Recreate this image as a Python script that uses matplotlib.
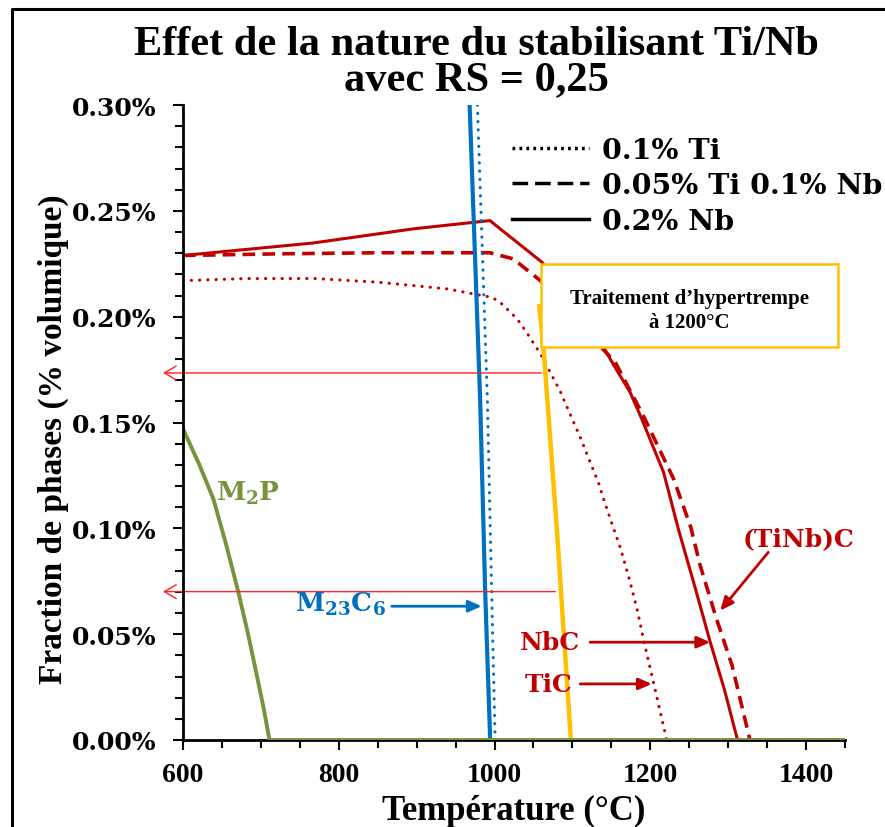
import matplotlib
matplotlib.use('Agg')
import matplotlib.pyplot as plt
from matplotlib.ticker import MultipleLocator, FuncFormatter
from matplotlib.lines import Line2D
from matplotlib.patches import Rectangle

plt.rcParams['mathtext.fontset'] = 'dejavuserif'

# ---------------- data (temperature in °C, fraction in % vol) ----------------
T_ti = [600, 680, 770, 850, 940, 973, 996, 1007, 1018, 1029, 1041, 1059, 1084, 1110,
        1134, 1140, 1150, 1162, 1173, 1183, 1192, 1204, 1221, 1450]
y_ti = [0.217, 0.218, 0.218, 0.2163, 0.2131, 0.2107, 0.2092, 0.2069, 0.2029, 0.199,
        0.1927, 0.1824, 0.165, 0.143, 0.121, 0.1139, 0.103, 0.0903, 0.0761, 0.0619,
        0.0463, 0.0274, 0.0, 0.0]

T_tinb = [600, 725, 853, 994, 1024, 1059, 1100, 1155, 1191, 1230, 1252, 1264, 1285,
          1305, 1328, 1450]
y_tinb = [0.2289, 0.2297, 0.2302, 0.2302, 0.2273, 0.217, 0.200, 0.1785, 0.1532,
          0.1233, 0.1005, 0.0825, 0.0572, 0.0352, 0.0, 0.0]

T_nb = [600, 767, 896, 994, 1061, 1100, 1138, 1156, 1174, 1189, 1217, 1226, 1236,
        1258, 1277, 1295, 1312, 1450]
y_nb = [0.2289, 0.2348, 0.2415, 0.2454, 0.2257, 0.207, 0.1867, 0.1753, 0.1643,
        0.1517, 0.1265, 0.1139, 0.0997, 0.0714, 0.0462, 0.024, 0.0, 0.0]

T_m23_nb = [968, 981.5, 988, 994.4]
y_m23_nb = [0.30, 0.161, 0.070, 0.0]
T_m23_ti = [978, 990.8, 996.3, 1000.8]
y_m23_ti = [0.30, 0.161, 0.070, 0.0]

T_yel = [1057.5, 1063, 1080, 1098]
y_yel = [0.205, 0.1848, 0.0997, 0.0]

T_m2p = [600, 620.6, 639, 655.2, 671, 683.5, 694, 703.8, 711, 1450]
y_m2p = [0.147, 0.1304, 0.1139, 0.0926, 0.070, 0.0501, 0.0319, 0.0146, 0.0, 0.0]

xticks = [600, 800, 1000, 1200, 1400]
yticks = [0.00, 0.05, 0.10, 0.15, 0.20, 0.25, 0.30]
legend_labels = ['0.1% Ti', '0.05% Ti 0.1% Nb', '0.2% Nb']

RED = '#C00000'
BLUE = '#0070C0'
GREEN = '#77933C'
YEL = '#FFC000'

SERIF_B = dict(family='DejaVu Serif', weight='bold')
TIMES_B = dict(family='Liberation Serif', weight='bold')

fig = plt.figure(figsize=(8.85, 8.28), dpi=100)
ax = fig.add_axes([183/885, 1-741/828, (845-183)/885, (741-106)/828])

dot = (0, (0.1, 2.6))
dash = (0, (3.5, 2.0))

ax.plot(T_ti, y_ti, color=RED, lw=2.2, ls=dot, dash_capstyle='round', zorder=3)
ax.plot(T_tinb, y_tinb, color=RED, lw=2.6, ls=dash, zorder=3)
ax.plot(T_nb, y_nb, color=RED, lw=2.2, ls='-', zorder=3)
ax.plot(T_m23_nb, y_m23_nb, color=BLUE, lw=3.0, ls='-', zorder=3)
ax.plot(T_m23_ti, y_m23_ti, color=BLUE, lw=2.2, ls=dot, dash_capstyle='round', zorder=3)
ax.plot(T_yel, y_yel, color=YEL, lw=3.2, ls='-', zorder=3)
ax.plot(T_m2p, y_m2p, color=GREEN, lw=2.8, ls='-', zorder=4)

ax.set_xlim(600, 1450)
ax.set_ylim(0, 0.30)
ax.set_xticks(xticks)
ax.set_yticks(yticks)
ax.xaxis.set_minor_locator(MultipleLocator(50))
ax.yaxis.set_minor_locator(MultipleLocator(0.01))
ax.yaxis.set_major_formatter(FuncFormatter(lambda v, p: f'{v:.2f}%'))
ax.tick_params(which='both', direction='out', width=1.5, color='black')
ax.tick_params(which='major', length=7)
ax.tick_params(which='minor', length=6)
ax.tick_params(axis='y', pad=12)
ax.tick_params(axis='x', pad=9)
for lab in ax.get_yticklabels():
    lab.set_fontfamily('DejaVu Serif'); lab.set_fontweight('bold'); lab.set_fontsize(18)
for lab in ax.get_xticklabels():
    lab.set_fontfamily('Liberation Serif'); lab.set_fontweight('bold'); lab.set_fontsize(20)

for s in ['top', 'right']:
    ax.spines[s].set_visible(False)
for s in ['left', 'bottom']:
    ax.spines[s].set_linewidth(2)
ax.spines['left'].set_zorder(5)

ax.set_xlabel('Température (°C)', fontsize=25, labelpad=5, **TIMES_B)
fig.text(53/885, 1-439/828, 'Fraction de phases (% volumique)', rotation=90,
         ha='center', va='center', fontsize=24, **TIMES_B)

fig.text(476/885, 1-45/828, 'Effet de la nature du stabilisant Ti/Nb',
         ha='center', va='center', fontsize=30.5, **TIMES_B)
fig.text(476/885, 1-80/828, 'avec RS = 0,25',
         ha='center', va='center', fontsize=30.5, **TIMES_B)

# legend
handles = [Line2D([], [], color='black', lw=2.5, ls=(0, (0.8, 1.2))),
           Line2D([], [], color='black', lw=2.5, ls=(0, (4.5, 2.0))),
           Line2D([], [], color='black', lw=2.5, ls='-')]
leg = ax.legend(handles, legend_labels, loc='upper left', bbox_to_anchor=(0.497, 0.95),
                frameon=False, handlelength=2.7, handletextpad=0.45, labelspacing=0.3,
                borderaxespad=0, borderpad=0,
                prop=dict(family='DejaVu Serif', weight='bold', size=20.5))

# text box
ax.add_patch(Rectangle((0.5408, 0.619), 0.9894-0.5408, 0.7496-0.619, transform=ax.transAxes,
                       facecolor='white', edgecolor=YEL, lw=1.8, zorder=6))
ax.text(0.765, 0.677, 'Traitement d’hypertrempe\nà 1200°C', transform=ax.transAxes,
        ha='center', va='center', fontsize=15, linespacing=1.25, zorder=7, **TIMES_B)

# left-pointing thin red arrows
for ytip, xtail in [(0.1734, 1060), (0.0701, 1078)]:
    ax.annotate('', xy=(574.3, ytip), xytext=(xtail, ytip),
                arrowprops=dict(arrowstyle='->,head_length=0.85,head_width=0.5',
                                color='#FF2020', lw=1.0, shrinkA=0, shrinkB=0),
                annotation_clip=False, zorder=5)

# labels
ax.text(683.5, 0.1172, r'$\mathbf{M_2P}$', color=GREEN, fontsize=19, ha='center', va='center')
ax.text(801.7, 0.0645, r'$\mathbf{M_{23}C_6}$', color=BLUE, fontsize=19, ha='center', va='center')
ax.annotate('', xy=(983.6, 0.0632), xytext=(868, 0.0632),
            arrowprops=dict(arrowstyle='-|>,head_length=0.8,head_width=0.35', color=BLUE,
                            lw=2, shrinkA=0, shrinkB=0), zorder=5)
ax.text(1071.4, 0.0463, 'NbC', color=RED, fontsize=18, ha='center', va='center', **SERIF_B)
ax.annotate('', xy=(1277, 0.0462), xytext=(1122.8, 0.0462),
            arrowprops=dict(arrowstyle='-|>,head_length=0.8,head_width=0.35', color=RED,
                            lw=2, shrinkA=0, shrinkB=0), zorder=5)
ax.text(1068.9, 0.0265, 'TiC', color=RED, fontsize=18, ha='center', va='center', **SERIF_B)
ax.annotate('', xy=(1202, 0.0265), xytext=(1110, 0.0265),
            arrowprops=dict(arrowstyle='-|>,head_length=0.8,head_width=0.35', color=RED,
                            lw=2, shrinkA=0, shrinkB=0), zorder=5)
ax.text(1390, 0.0955, '(TiNb)C', color=RED, fontsize=18, ha='center', va='center', **SERIF_B)
ax.annotate('', xy=(1289.8, 0.0611), xytext=(1351.5, 0.0887),
            arrowprops=dict(arrowstyle='-|>,head_length=0.8,head_width=0.35', color=RED,
                            lw=2, shrinkA=0, shrinkB=0), zorder=5)

# outer frame (left and top edges)
fig.add_artist(Line2D([12/885, 12/885, 1.0], [0.0, 1-10/828, 1-10/828],
                      transform=fig.transFigure, color='black', lw=2.2))

fig.savefig('out.png', dpi=100)
